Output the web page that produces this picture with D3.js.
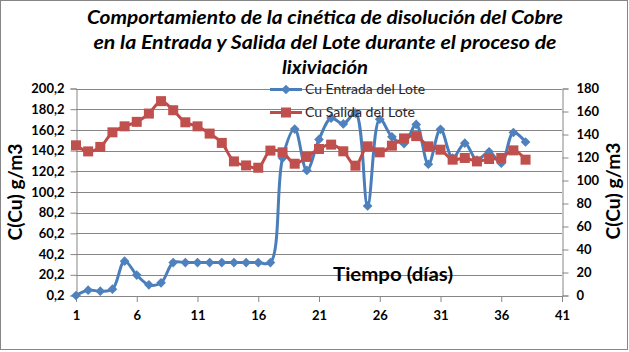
<!DOCTYPE html>
<html>
<head>
<meta charset="utf-8">
<script src="https://cdn.jsdelivr.net/npm/d3@7"></script>
<style>
body { margin: 0; background: #fff; }
svg { display: block; }
</style>
</head>
<body>
<div id="chart"></div>
<script>
// data
const days = [1,2,3,4,5,6,7,8,9,10,11,12,13,14,15,16,17,18,19,20,21,22,23,24,25,26,27,28,29,30,31,32,33,34,35,36,37,38];
const entrada = [0.2,5.3,4.4,6.3,33.4,19.9,10.5,12.4,32,32,32,32,32,32,32,32,32,133,161,121,151,171.6,166,176.5,86.7,170.6,153.5,147,165.5,127,160.8,133,147.4,131,139,128,157.7,148.5];
const salida = [130.6,125.3,129.2,141.9,147.1,151,158.2,169,161.1,150.6,147.1,140.8,132.7,116.6,113.1,111.1,126,124.5,114.6,120.5,127.4,131.2,125.4,112.9,129.7,124.5,130.3,136.6,138.6,129.7,126.8,118.1,119.6,116.6,118.7,119.6,126.2,118.1];
const leftTicks = [0.2,20.2,40.2,60.2,80.2,100.2,120.2,140.2,160.2,180.2,200.2];
const rightTicks = [0,20,40,60,80,100,120,140,160,180];
const xTicks = [1,6,11,16,21,26,31,36,41];
const titleLines = [
    'Comportamiento de la cinética de disolución del Cobre',
    'en la Entrada  y Salida del Lote durante el proceso de',
    'lixiviación'
];
const seriesNames = ['Cu Entrada del Lote', 'Cu Salida del Lote'];

const width = 629, height = 352;
const plot = {left: 76, right: 562, top: 88.5, bottom: 295.5};
const gridColor = '#868686';
const blue = '#4a7ebb', red = '#be4b48';
const font = 'Lato, "Open Sans", sans-serif';

const svg = d3.select('#chart').append('svg')
    .attr('width', width)
    .attr('height', height)
    .style('font-family', font);

svg.append('rect')
    .attr('x', 0.5).attr('y', 0.5)
    .attr('width', width - 2).attr('height', height - 3)
    .attr('fill', '#fff')
    .attr('stroke', gridColor);

const x = d3.scaleLinear().domain([1, 41]).range([plot.left, plot.right]);
const yL = d3.scaleLinear().domain([0.2, 200.2]).range([plot.bottom, plot.top]);
const yR = d3.scaleLinear().domain([0, 180]).range([plot.bottom, plot.top]);

const fmt = d => d3.format('.1f')(d).replace('.', ',');

// grid
svg.append('g')
    .selectAll('line')
    .data(leftTicks)
    .join('line')
    .attr('x1', plot.left).attr('x2', plot.right)
    .attr('y1', d => Math.round(yL(d)) + 0.5).attr('y2', d => Math.round(yL(d)) + 0.5)
    .attr('stroke', gridColor);

function styleAxis(g) {
    g.selectAll('.domain').attr('stroke', gridColor);
    g.selectAll('.tick line').attr('stroke', gridColor);
    g.selectAll('.tick text')
        .attr('fill', '#000')
        .style('font-family', font)
        .style('font-weight', 'bold')
        .style('font-size', '13px');
}

svg.append('g')
    .attr('transform', `translate(${plot.left + 0.5},0)`)
    .call(d3.axisLeft(yL).tickValues(leftTicks).tickFormat(fmt).tickSizeOuter(0).tickSize(6).tickPadding(6))
    .call(styleAxis);

svg.append('g')
    .attr('transform', `translate(${plot.right + 0.5},0)`)
    .call(d3.axisRight(yR).tickValues(rightTicks).tickSizeOuter(0).tickSize(6).tickPadding(8))
    .call(styleAxis);

svg.append('g')
    .attr('transform', `translate(0,${plot.bottom + 0.5})`)
    .call(d3.axisBottom(x).tickValues(xTicks).tickSizeOuter(0).tickSize(6).tickPadding(9))
    .call(styleAxis);

// series
const curve = d3.curveCatmullRom.alpha(0.5);
const lineL = d3.line().x((d, i) => x(days[i])).y(d => yL(d)).curve(curve);
const lineR = d3.line().x((d, i) => x(days[i])).y(d => yR(d)).curve(curve);

const diamond = d3.symbol().type(d3.symbolDiamond2).size(60);

svg.append('path')
    .datum(entrada)
    .attr('d', lineL)
    .attr('fill', 'none')
    .attr('stroke', blue)
    .attr('stroke-width', 3);
svg.append('g')
    .selectAll('path')
    .data(entrada)
    .join('path')
    .attr('d', diamond)
    .attr('transform', (d, i) => `translate(${x(days[i])},${yL(d)})`)
    .attr('fill', '#4f81bd');

svg.append('path')
    .datum(salida)
    .attr('d', lineR)
    .attr('fill', 'none')
    .attr('stroke', red)
    .attr('stroke-width', 3);
svg.append('g')
    .selectAll('rect')
    .data(salida)
    .join('rect')
    .attr('x', (d, i) => x(days[i]) - 5)
    .attr('y', d => yR(d) - 5)
    .attr('width', 10).attr('height', 10)
    .attr('fill', '#c0504d');

// title
svg.append('g')
    .selectAll('text')
    .data(titleLines)
    .join('text')
    .attr('x', 325)
    .attr('y', (d, i) => 24 + i * 25)
    .attr('text-anchor', 'middle')
    .attr('textLength', (d, i) => [476, 463, 86][i])
    .attr('lengthAdjust', 'spacingAndGlyphs')
    .style('font-size', '18px')
    .style('font-weight', 'bold')
    .style('font-style', 'italic')
    .attr('fill', '#000')
    .text(d => d);

// axis titles
const axisTitle = (tx, ty, rot, txt, len) => svg.append('text')
    .attr('transform', `translate(${tx},${ty}) rotate(${rot})`)
    .attr('text-anchor', 'middle')
    .attr('textLength', len)
    .attr('lengthAdjust', 'spacingAndGlyphs')
    .style('font-size', '18px')
    .style('font-weight', 'bold')
    .attr('fill', '#000')
    .text(txt);
axisTitle(22, 192, -90, 'C(Cu) g/m3', 97);
axisTitle(620, 191, -90, 'C(Cu) g/m3', 97);
axisTitle(393, 281, 0, 'Tiempo (días)', 120);

// legend
const legend = svg.append('g').attr('transform', 'translate(270,0)');
const legendY = [89.5, 112.5];
legend.selectAll('line')
    .data(seriesNames)
    .join('line')
    .attr('x1', 0).attr('x2', 32)
    .attr('y1', (d, i) => legendY[i]).attr('y2', (d, i) => legendY[i])
    .attr('stroke', (d, i) => i ? red : blue)
    .attr('stroke-width', 3);
legend.append('path')
    .attr('d', diamond)
    .attr('transform', `translate(16,${legendY[0]})`)
    .attr('fill', '#4f81bd');
legend.append('rect')
    .attr('x', 11).attr('y', legendY[1] - 5)
    .attr('width', 10).attr('height', 10)
    .attr('fill', '#c0504d');
legend.selectAll('text')
    .data(seriesNames)
    .join('text')
    .attr('x', 35)
    .attr('y', (d, i) => legendY[i] + 4.5)
    .attr('textLength', (d, i) => [120, 110][i])
    .attr('lengthAdjust', 'spacingAndGlyphs')
    .style('font-size', '13px')
    .attr('fill', '#262626')
    .text(d => d);
</script>
</body>
</html>
